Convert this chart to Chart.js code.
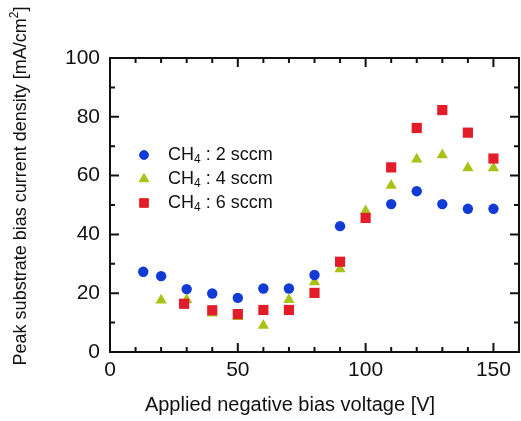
<!DOCTYPE html>
<html>
<head>
<meta charset="utf-8">
<script src="https://cdn.jsdelivr.net/npm/chart.js@4/dist/chart.umd.min.js"></script>
<style>
  html, body { margin: 0; padding: 0; background: #fff; }
  #wrap { width: 521px; height: 421px; }
</style>
</head>
<body>
<div id="wrap"><canvas id="biasChart" width="521" height="421"></canvas></div>
<script>
// bias voltage [V]
const volt2 = [13, 20, 30, 40, 50, 60, 70, 80, 90, 110, 120, 130, 140, 150];
const ch4_2 = [27.3, 25.8, 21.4, 19.9, 18.4, 21.6, 21.6, 26.2, 42.8, 50.3, 54.7, 50.3, 48.7, 48.7];

const volt4 = [20, 30, 40, 50, 60, 70, 80, 90, 100, 110, 120, 130, 140, 150];
const ch4_4 = [17.6, 17.8, 13.2, 12.0, 9.0, 17.8, 23.8, 28.2, 48.0, 56.6, 65.6, 67.0, 62.6, 62.6];

const volt6 = [29, 40, 50, 60, 70, 80, 90, 100, 110, 120, 130, 140, 150];
const ch4_6 = [16.4, 14.2, 12.9, 14.3, 14.3, 20.1, 30.7, 45.6, 62.8, 76.2, 82.3, 74.6, 65.8];

const legendLabels = ['2 sccm', '4 sccm', '6 sccm'];
const xTitle = 'Applied negative bias voltage [V]';
const yTitle = 'Peak substrate bias current density [mA/cm';

const BLUE = 'rgb(18, 58, 212)';
const GREEN = 'rgb(170, 194, 24)';
const RED = 'rgb(226, 28, 40)';
const FONT = '"Liberation Sans", Arial, sans-serif';

const pts = (xs, ys) => xs.map((x, i) => ({ x: x, y: ys[i] }));

// box frame with inward ticks on all four sides
const frameTicks = {
  id: 'frameTicks',
  afterDatasetsDraw(chart) {
    const { ctx, chartArea: a, scales: { x, y } } = chart;
    ctx.save();
    ctx.strokeStyle = '#111';
    ctx.lineWidth = 2;
    ctx.strokeRect(a.left, a.top, a.right - a.left, a.bottom - a.top);
    for (let v = 10; v < 160; v += 10) {
      const len = (v % 50 === 0) ? 9 : 5;
      const px = x.getPixelForValue(v);
      ctx.beginPath();
      ctx.moveTo(px, a.bottom); ctx.lineTo(px, a.bottom - len);
      ctx.moveTo(px, a.top); ctx.lineTo(px, a.top + len);
      ctx.stroke();
    }
    for (let v = 10; v < 100; v += 10) {
      const len = (v % 20 === 0) ? 9 : 5;
      const py = y.getPixelForValue(v);
      ctx.beginPath();
      ctx.moveTo(a.left, py); ctx.lineTo(a.left + len, py);
      ctx.moveTo(a.right, py); ctx.lineTo(a.right - len, py);
      ctx.stroke();
    }
    ctx.restore();
  }
};

// axis titles (with superscript) and legend (with subscript)
const texts = {
  id: 'texts',
  afterDraw(chart) {
    const ctx = chart.ctx;
    ctx.save();
    ctx.fillStyle = '#111';
    ctx.textBaseline = 'middle';

    // x title
    ctx.font = '20px ' + FONT;
    ctx.textAlign = 'center';
    ctx.fillText(xTitle, 290, 405);

    // y title, rotated
    ctx.save();
    ctx.translate(21, 186);
    ctx.rotate(-Math.PI / 2);
    ctx.font = '18px ' + FONT;
    const w1 = ctx.measureText(yTitle).width;
    ctx.font = '12px ' + FONT;
    const w2 = ctx.measureText('2').width;
    ctx.font = '18px ' + FONT;
    const w3 = ctx.measureText(']').width;
    let sx = -(w1 + w2 + w3) / 2;
    ctx.textAlign = 'left';
    ctx.fillText(yTitle, sx, 0);
    ctx.font = '12px ' + FONT;
    ctx.fillText('2', sx + w1, -6);
    ctx.font = '18px ' + FONT;
    ctx.fillText(']', sx + w1 + w2, 0);
    ctx.restore();

    // legend
    const x0 = 144, tx = 168, y0 = 155, dy = 24;
    ctx.textAlign = 'left';
    chart.data.datasets.forEach((ds, i) => {
      const yy = y0 + i * dy;
      ctx.fillStyle = ds.backgroundColor;
      ctx.strokeStyle = ds.backgroundColor;
      ctx.lineWidth = 1;
      Chart.helpers.drawPoint(ctx, { pointStyle: ds.pointStyle, radius: ds.pointRadius * 0.85, borderWidth: 1 }, x0, yy);
      ctx.fillStyle = '#111';
      ctx.font = '18px ' + FONT;
      ctx.fillText('CH', tx, yy);
      let w = ctx.measureText('CH').width;
      ctx.font = '12px ' + FONT;
      ctx.fillText('4', tx + w, yy + 5);
      w += ctx.measureText('4').width;
      ctx.font = '18px ' + FONT;
      ctx.fillText(' : ' + legendLabels[i], tx + w, yy);
    });
    ctx.restore();
  }
};

new Chart(document.getElementById('biasChart'), {
  type: 'scatter',
  data: {
    datasets: [
      { label: 'CH4 : 2 sccm', data: pts(volt2, ch4_2), pointStyle: 'circle', pointRadius: 5.2,
        backgroundColor: BLUE, borderColor: BLUE, borderWidth: 0, order: 1 },
      { label: 'CH4 : 4 sccm', data: pts(volt4, ch4_4), pointStyle: 'triangle', pointRadius: 6.5,
        backgroundColor: GREEN, borderColor: GREEN, borderWidth: 0, order: 2 },
      { label: 'CH4 : 6 sccm', data: pts(volt6, ch4_6), pointStyle: 'rect', pointRadius: 7.2,
        backgroundColor: RED, borderColor: RED, borderWidth: 0, order: 0 }
    ]
  },
  options: {
    responsive: false,
    animation: false,
    layout: { autoPadding: false, padding: { top: 58, right: 2, left: 0, bottom: 0 } },
    plugins: { legend: { display: false }, tooltip: { enabled: false } },
    scales: {
      x: {
        type: 'linear', min: 0, max: 160,
        afterFit(s) { s.height = 69; },
        grid: { display: false, drawTicks: false },
        border: { display: false },
        ticks: {
          stepSize: 50, includeBounds: false, padding: 6, color: '#111',
          font: { family: FONT, size: 21 },
          callback: (v) => (v % 50 === 0 && v <= 150) ? String(v) : ''
        }
      },
      y: {
        type: 'linear', min: 0, max: 100,
        afterFit(s) { s.width = 110; },
        grid: { display: false, drawTicks: false },
        border: { display: false },
        ticks: {
          stepSize: 20, padding: 10, color: '#111',
          font: { family: FONT, size: 21 }
        }
      }
    }
  },
  plugins: [frameTicks, texts]
});
</script>
</body>
</html>
